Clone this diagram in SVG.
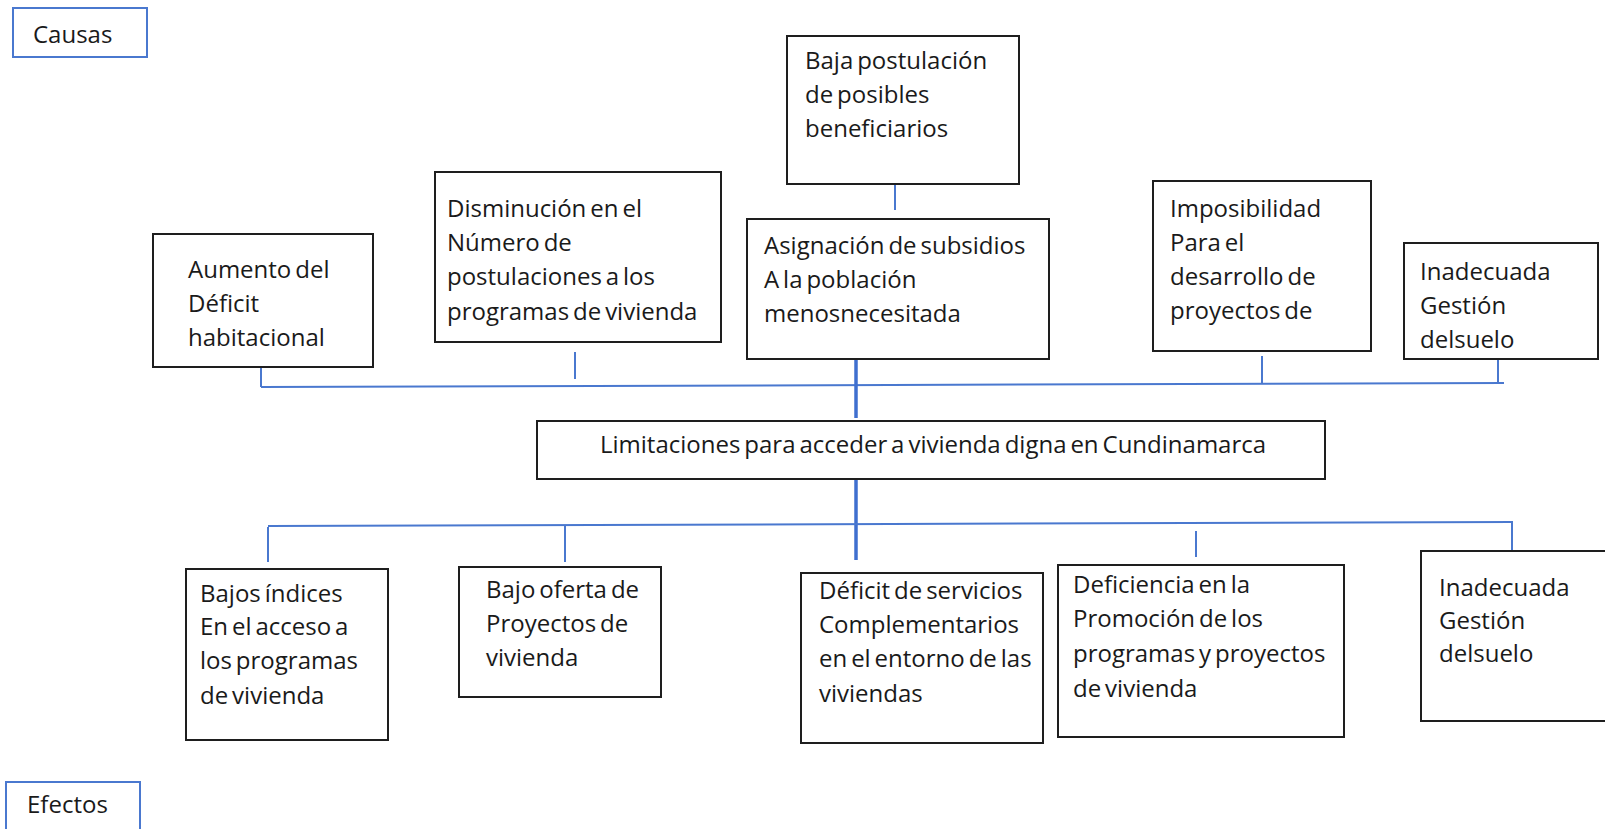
<svg xmlns="http://www.w3.org/2000/svg" width="1605" height="829" viewBox="0 0 1605 829">
<style>
  .box { fill: #ffffff; stroke: #1e1e1e; stroke-width: 2; }
  .lbl { fill: #ffffff; stroke: #4a78cf; stroke-width: 2; }
  .t { font-family: "Open Sans", "Liberation Sans", sans-serif; font-size: 24px; word-spacing: -2.3px; fill: #1a1a1a; }
  .c { stroke: #4a78cf; stroke-width: 2; fill: none; }
  .cm { stroke: #3f6fcf; stroke-width: 3.5; fill: none; }
</style>
<rect width="1605" height="829" fill="#ffffff"/>

<g id="connectors">
  <line class="c" x1="261" y1="387" x2="1504" y2="383"/>
  <line class="c" x1="261" y1="358" x2="261" y2="387"/>
  <line class="c" x1="575" y1="352" x2="575" y2="379"/>
  <line class="c" x1="895" y1="185" x2="895" y2="210"/>
  <line class="c" x1="1262" y1="356" x2="1262" y2="384"/>
  <line class="c" x1="1498" y1="359" x2="1498" y2="384"/>
  <line class="cm" x1="856" y1="359" x2="856" y2="418"/>
  <line class="cm" x1="856" y1="479" x2="856" y2="560"/>
  <line class="c" x1="268" y1="526" x2="1513" y2="522"/>
  <line class="c" x1="268" y1="527" x2="268" y2="562"/>
  <line class="c" x1="565" y1="525" x2="565" y2="562"/>
  <line class="c" x1="1196" y1="531" x2="1196" y2="557"/>
  <line class="c" x1="1512" y1="522" x2="1512" y2="554"/>
</g>

<g id="causas">
  <rect class="lbl" x="13" y="8" width="134" height="49"/>
  <text class="t" x="33" y="43">Causas</text>
</g>

<g id="baja">
  <rect class="box" x="787" y="36" width="232" height="148"/>
  <text class="t" x="805" y="69">Baja postulación</text>
  <text class="t" x="805" y="103">de posibles</text>
  <text class="t" x="805" y="137">beneficiarios</text>
</g>

<g id="disminucion">
  <rect class="box" x="435" y="172" width="286" height="170"/>
  <text class="t" x="447" y="217">Disminución en el</text>
  <text class="t" x="447" y="251">Número de</text>
  <text class="t" x="447" y="285">postulaciones a los</text>
  <text class="t" x="447" y="320">programas de vivienda</text>
</g>

<g id="aumento">
  <rect class="box" x="153" y="234" width="220" height="133"/>
  <text class="t" x="188" y="278">Aumento del</text>
  <text class="t" x="188" y="312">Déficit</text>
  <text class="t" x="188" y="346">habitacional</text>
</g>

<g id="asignacion">
  <rect class="box" x="747" y="219" width="302" height="140"/>
  <text class="t" x="764" y="254">Asignación de subsidios</text>
  <text class="t" x="764" y="288">A la población</text>
  <text class="t" x="764" y="322">menosnecesitada</text>
</g>

<g id="imposibilidad">
  <rect class="box" x="1153" y="181" width="218" height="170"/>
  <text class="t" x="1170" y="217">Imposibilidad</text>
  <text class="t" x="1170" y="251">Para el</text>
  <text class="t" x="1170" y="285">desarrollo de</text>
  <text class="t" x="1170" y="319">proyectos de</text>
</g>

<g id="inadecuada-causa">
  <rect class="box" x="1404" y="243" width="194" height="116"/>
  <text class="t" x="1420" y="280">Inadecuada</text>
  <text class="t" x="1420" y="314">Gestión</text>
  <text class="t" x="1420" y="348">delsuelo</text>
</g>

<g id="problema">
  <rect class="box" x="537" y="421" width="788" height="58"/>
  <text class="t" x="600" y="453">Limitaciones para acceder a vivienda digna en Cundinamarca</text>
</g>

<g id="bajos-indices">
  <rect class="box" x="186" y="569" width="202" height="171"/>
  <text class="t" x="200" y="602">Bajos índices</text>
  <text class="t" x="200" y="635">En el acceso a</text>
  <text class="t" x="200" y="669">los programas</text>
  <text class="t" x="200" y="704">de vivienda</text>
</g>

<g id="bajo-oferta">
  <rect class="box" x="459" y="567" width="202" height="130"/>
  <text class="t" x="486" y="598">Bajo oferta de</text>
  <text class="t" x="486" y="632">Proyectos de</text>
  <text class="t" x="486" y="666">vivienda</text>
</g>

<g id="deficit-servicios">
  <rect class="box" x="801" y="573" width="242" height="170"/>
  <text class="t" x="819" y="599">Déficit de servicios</text>
  <text class="t" x="819" y="633">Complementarios</text>
  <text class="t" x="819" y="667">en el entorno de las</text>
  <text class="t" x="819" y="702">viviendas</text>
</g>

<g id="deficiencia">
  <rect class="box" x="1058" y="565" width="286" height="172"/>
  <text class="t" x="1073" y="593">Deficiencia en la</text>
  <text class="t" x="1073" y="627">Promoción de los</text>
  <text class="t" x="1073" y="662">programas y proyectos</text>
  <text class="t" x="1073" y="697">de vivienda</text>
</g>

<g id="inadecuada-efecto">
  <rect class="box" x="1421" y="551" width="200" height="170"/>
  <text class="t" x="1439" y="596">Inadecuada</text>
  <text class="t" x="1439" y="629">Gestión</text>
  <text class="t" x="1439" y="662">delsuelo</text>
</g>

<g id="efectos">
  <rect class="lbl" x="6" y="782" width="134" height="60"/>
  <text class="t" x="27" y="813">Efectos</text>
</g>
</svg>
